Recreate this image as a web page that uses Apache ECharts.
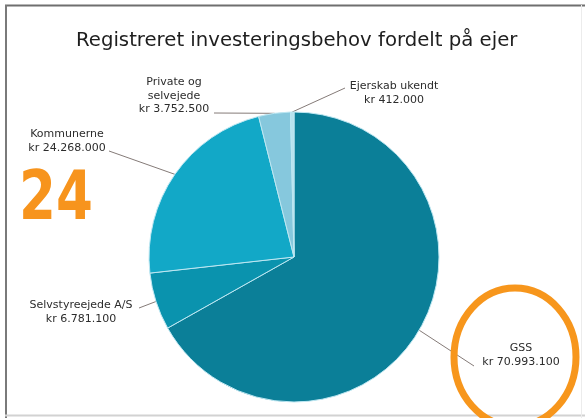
<!DOCTYPE html>
<html>
<head>
<meta charset="utf-8">
<script src="https://cdn.jsdelivr.net/npm/echarts@6/dist/echarts.min.js"></script>
<style>
  html, body { margin: 0; padding: 0; background: #ffffff; }
  #chart { width: 585px; height: 418px; }
</style>
</head>
<body>
<div id="chart"></div>
<script>
// Registered investment need, split by owner (kr)
const owners = ['GSS', 'Selvstyreejede A/S', 'Kommunerne', 'Private og\nselvejede', 'Ejerskab ukendt'];
const amounts = [70993100, 6781100, 24268000, 3752500, 412000];
const titleText = 'Registreret investeringsbehov fordelt på ejer';
const noteText = '24';

const sliceColors = ['#0b7f98', '#0a93ae', '#12a8c7', '#86c8dd', '#b7e2ee'];

// Label anchor boxes (centre of the text block) and where each leader line ends
const labelSpots = [
  { x: 521, y: 355, end: [474, 366] },
  { x: 81,  y: 312, end: [139, 308] },
  { x: 67,  y: 141, end: [109, 151] },
  { x: 174, y: 96,  end: [214, 113] },
  { x: 394, y: 93,  end: [345, 88] }
];

function krFormat(v) {
  return 'kr ' + String(v).replace(/\B(?=(\d{3})+(?!\d))/g, '.');
}

const chart = echarts.init(document.getElementById('chart'), null, { renderer: 'canvas' });

chart.setOption({
  backgroundColor: '#ffffff',
  animation: false,
  title: {
    text: titleText,
    left: 71,
    top: 26,
    textStyle: {
      fontFamily: '"DejaVu Sans", sans-serif',
      fontSize: 19.7,
      fontWeight: 'normal',
      color: '#1e1e1e'
    }
  },
  series: [{
    type: 'pie',
    center: [294, 257],
    radius: 145,
    startAngle: 90,
    clockwise: true,
    avoidLabelOverlap: false,
    data: owners.map((name, i) => ({
      name: name,
      value: amounts[i],
      itemStyle: { color: sliceColors[i] }
    })),
    itemStyle: { borderColor: '#bde7f2', borderWidth: 1 },
    label: {
      show: true,
      position: 'outside',
      formatter: p => p.name + '\n' + krFormat(p.value),
      fontFamily: '"DejaVu Sans", sans-serif',
      fontSize: 11,
      lineHeight: 13.5,
      color: '#2c2c2c',
      align: 'center'
    },
    labelLine: {
      show: true,
      lineStyle: { color: '#857b78', width: 1 }
    },
    labelLayout: function (params) {
      const s = labelSpots[params.dataIndex];
      const edge = params.labelLinePoints ? params.labelLinePoints[0] : s.end;
      return {
        x: s.x,
        y: s.y,
        align: 'center',
        verticalAlign: 'middle',
        labelLinePoints: [edge, s.end, s.end]
      };
    },
    emphasis: { disabled: true }
  }],
  graphic: [
    // frame
    { type: 'line', z: 50, shape: { x1: 5, y1: 5.5, x2: 585, y2: 5.5 }, style: { stroke: '#6f6f6f', lineWidth: 2 } },
    { type: 'line', z: 50, shape: { x1: 6, y1: 5, x2: 6, y2: 418 }, style: { stroke: '#7a7a7a', lineWidth: 2 } },
    { type: 'line', z: 50, shape: { x1: 5, y1: 415.5, x2: 585, y2: 415.5 }, style: { stroke: '#d2d2d2', lineWidth: 2 } },
    { type: 'line', z: 50, shape: { x1: 581.5, y1: 5, x2: 581.5, y2: 418 }, style: { stroke: '#ececec', lineWidth: 1 } },
    // hand-written marks
    {
      type: 'text', z: 60, x: 19, y: 167,
      scaleX: 0.78,
      style: {
        text: noteText,
        font: 'bold 68px "DejaVu Sans", sans-serif',
        fill: '#f7941d'
      }
    },
    {
      type: 'ellipse', z: 60,
      shape: { cx: 515, cy: 357, rx: 61, ry: 69 },
      style: { fill: 'none', stroke: '#f7961c', lineWidth: 7 }
    }
  ]
});
</script>
</body>
</html>
